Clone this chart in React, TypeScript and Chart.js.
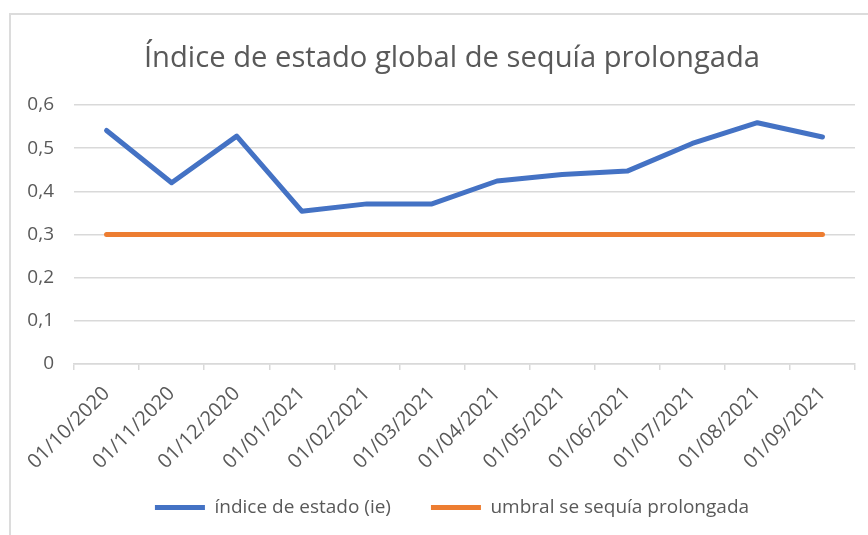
import React, { useEffect, useRef } from "react";
import { Chart, registerables } from "chart.js";

Chart.register(...registerables);

const categories: string[] = [
  "01/10/2020", "01/11/2020", "01/12/2020", "01/01/2021", "01/02/2021", "01/03/2021",
  "01/04/2021", "01/05/2021", "01/06/2021", "01/07/2021", "01/08/2021", "01/09/2021",
];
const indiceEstado: number[] = [0.541, 0.42, 0.528, 0.354, 0.371, 0.371, 0.424, 0.439, 0.447, 0.511, 0.559, 0.526];
const umbral: number[] = [0.3, 0.3, 0.3, 0.3, 0.3, 0.3, 0.3, 0.3, 0.3, 0.3, 0.3, 0.3];
const yTicks = { min: 0, max: 0.6, step: 0.1 };
const titleText = "Índice de estado global de sequía prolongada";
const seriesNames = ["índice de estado (ie)", "umbral se sequía prolongada"];

const FONT = "'Open Sans', 'Noto Sans', sans-serif";
const TEXT = "#595959";
const GRID = "#d9d9d9";

export default function App() {
  const ref = useRef<HTMLCanvasElement | null>(null);
  useEffect(() => {
    if (!ref.current) return;
    const chart = new Chart(ref.current, {
      type: "line",
      data: {
        labels: categories,
        datasets: [
          {
            label: seriesNames[0],
            data: indiceEstado,
            borderColor: "#4472C4",
            backgroundColor: "#4472C4",
            borderWidth: 5,
            borderCapStyle: "round",
            borderJoinStyle: "round",
            pointRadius: 0,
            pointHoverRadius: 0,
            tension: 0,
            yAxisID: "y",
          },
          {
            label: seriesNames[1],
            data: umbral,
            borderColor: "#ED7D31",
            backgroundColor: "#ED7D31",
            borderWidth: 5,
            borderCapStyle: "round",
            borderJoinStyle: "round",
            pointRadius: 0,
            pointHoverRadius: 0,
            tension: 0,
            yAxisID: "y",
          },
        ],
      },
      options: {
        animation: false,
        responsive: false,
        maintainAspectRatio: false,
        events: [],
        layout: { padding: { left: 0, right: -36, top: 0, bottom: 8 } },
        plugins: {
          tooltip: { enabled: false },
          title: {
            display: true,
            text: titleText,
            color: TEXT,
            font: { family: FONT, size: 29.2, weight: "normal" },
            padding: { top: 41, bottom: 29 },
          },
          legend: {
            display: true,
            position: "bottom",
            labels: {
              color: TEXT,
              font: { family: FONT, size: 19 },
              usePointStyle: true,
              pointStyle: "line",
              pointStyleWidth: 50,
              padding: 40,
            },
          },
        },
        scales: {
          x: {
            offset: true,
            grid: {
              display: true,
              drawOnChartArea: false,
              drawTicks: true,
              tickLength: 6,
              color: GRID,
              lineWidth: 1.5,
              offset: true,
            },
            border: { display: true, color: GRID, width: 1.5 },
            ticks: {
              color: TEXT,
              font: { family: FONT, size: 20 },
              minRotation: 45,
              maxRotation: 45,
              autoSkip: false,
              padding: 12,
            },
            afterFit: (scale: any) => {
              scale.height = 94;
              scale._computeLabelArea = () => undefined;
            },
          },
          y: {
            position: "left",
            min: yTicks.min,
            max: yTicks.max,
            grid: { color: GRID, lineWidth: 1.5, drawTicks: false },
            border: { display: false },
            ticks: {
              stepSize: yTicks.step,
              color: TEXT,
              font: { family: FONT, size: 19 },
              padding: 20,
              callback: (v: any) => (Number(v) === 0 ? "0" : Number(v).toFixed(1).replace(".", ",")),
            },
            afterFit: (scale: any) => {
              scale.width = 74;
            },
          },
          yPad: {
            type: "linear",
            position: "right",
            display: true,
            min: 0,
            max: 1,
            grid: { drawOnChartArea: false, drawTicks: false },
            border: { display: false },
            ticks: { display: false },
            afterFit: (scale: any) => {
              scale.width = 49;
            },
          },
        },
      },
    });
    return () => chart.destroy();
  }, []);

  return (
    <div
      style={{
        position: "absolute",
        left: 0,
        top: 0,
        width: 868,
        height: 535,
        overflow: "hidden",
        background: "#ffffff",
      }}
    >
      <div
        style={{
          position: "absolute",
          left: 9,
          top: 13,
          width: 920,
          height: 620,
          border: "2px solid #dcdcdc",
        }}
      />
      <canvas
        ref={ref}
        width={868}
        height={535}
        style={{ position: "absolute", left: 0, top: 0, width: 868, height: 535 }}
      />
    </div>
  );
}
